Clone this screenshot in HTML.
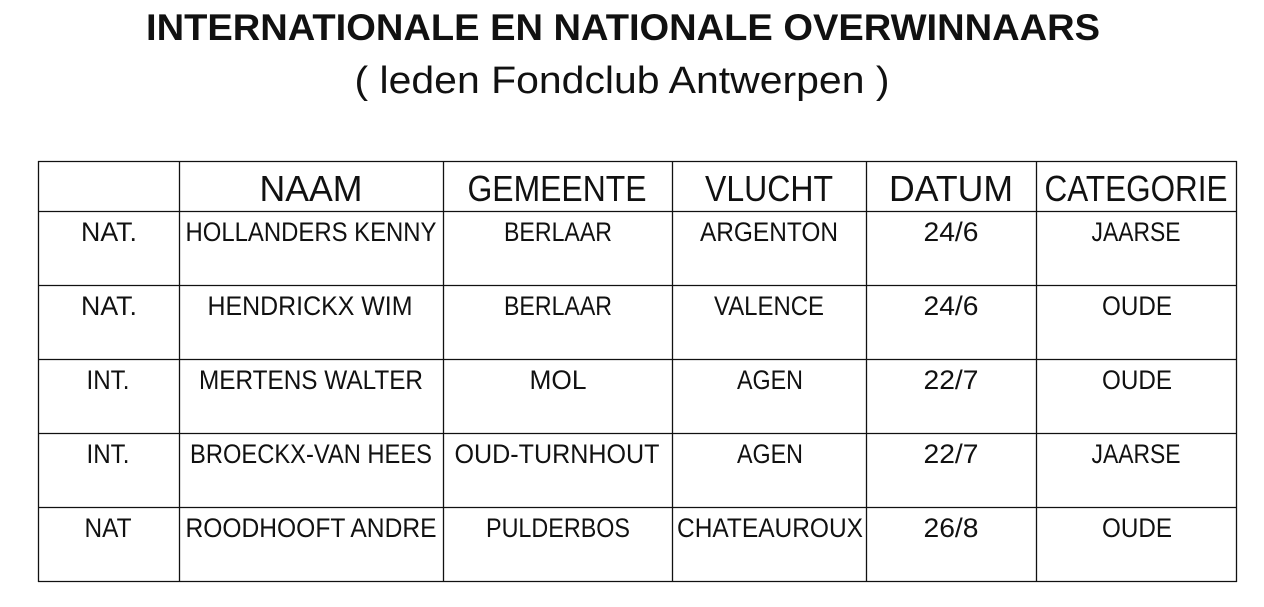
<!DOCTYPE html>
<html><head><meta charset="utf-8"><style>html,body{margin:0;padding:0;background:#fff}svg{display:block}</style></head>
<body>
<svg width="1264" height="607" xmlns="http://www.w3.org/2000/svg" font-family="Liberation Sans, sans-serif" fill="#111">
<text x="623" y="40" font-size="37" font-weight="bold" text-anchor="middle" textLength="954" lengthAdjust="spacingAndGlyphs">INTERNATIONALE  EN NATIONALE OVERWINNAARS</text>
<text x="622" y="93" font-size="38" text-anchor="middle" textLength="535" lengthAdjust="spacingAndGlyphs">( leden Fondclub Antwerpen )</text>
<g stroke="#111" stroke-width="1.3">
<line x1="38" y1="161.5" x2="1237" y2="161.5"/>
<line x1="38" y1="211.5" x2="1237" y2="211.5"/>
<line x1="38" y1="285.5" x2="1237" y2="285.5"/>
<line x1="38" y1="359.5" x2="1237" y2="359.5"/>
<line x1="38" y1="433.5" x2="1237" y2="433.5"/>
<line x1="38" y1="507.5" x2="1237" y2="507.5"/>
<line x1="38" y1="581.5" x2="1237" y2="581.5"/>
<line x1="38.5" y1="161" x2="38.5" y2="582"/>
<line x1="179.5" y1="161" x2="179.5" y2="582"/>
<line x1="443.5" y1="161" x2="443.5" y2="582"/>
<line x1="672.5" y1="161" x2="672.5" y2="582"/>
<line x1="866.5" y1="161" x2="866.5" y2="582"/>
<line x1="1036.5" y1="161" x2="1036.5" y2="582"/>
<line x1="1236.5" y1="161" x2="1236.5" y2="582"/>
</g>
<g font-size="36" text-anchor="middle">
<text x="311" y="201" textLength="103" lengthAdjust="spacingAndGlyphs">NAAM</text>
<text x="557" y="201" textLength="179" lengthAdjust="spacingAndGlyphs">GEMEENTE</text>
<text x="769" y="201" textLength="128" lengthAdjust="spacingAndGlyphs">VLUCHT</text>
<text x="951" y="201" textLength="124" lengthAdjust="spacingAndGlyphs">DATUM</text>
<text x="1136" y="201" textLength="183" lengthAdjust="spacingAndGlyphs">CATEGORIE</text>
</g>
<g font-size="26.5" text-anchor="middle">
<text x="109" y="241" textLength="56" lengthAdjust="spacingAndGlyphs">NAT.</text>
<text x="311" y="241" textLength="251" lengthAdjust="spacingAndGlyphs">HOLLANDERS KENNY</text>
<text x="558" y="241" textLength="108" lengthAdjust="spacingAndGlyphs">BERLAAR</text>
<text x="769" y="241" textLength="138" lengthAdjust="spacingAndGlyphs">ARGENTON</text>
<text x="951" y="241" textLength="55" lengthAdjust="spacingAndGlyphs">24/6</text>
<text x="1136" y="241" textLength="89" lengthAdjust="spacingAndGlyphs">JAARSE</text>

<text x="109" y="315" textLength="56" lengthAdjust="spacingAndGlyphs">NAT.</text>
<text x="310" y="315" textLength="205" lengthAdjust="spacingAndGlyphs">HENDRICKX WIM</text>
<text x="558" y="315" textLength="108" lengthAdjust="spacingAndGlyphs">BERLAAR</text>
<text x="769" y="315" textLength="110" lengthAdjust="spacingAndGlyphs">VALENCE</text>
<text x="951" y="315" textLength="55" lengthAdjust="spacingAndGlyphs">24/6</text>
<text x="1137" y="315" textLength="70" lengthAdjust="spacingAndGlyphs">OUDE</text>

<text x="108" y="389" textLength="43" lengthAdjust="spacingAndGlyphs">INT.</text>
<text x="311" y="389" textLength="224" lengthAdjust="spacingAndGlyphs">MERTENS WALTER</text>
<text x="558" y="389" textLength="57" lengthAdjust="spacingAndGlyphs">MOL</text>
<text x="770" y="389" textLength="66" lengthAdjust="spacingAndGlyphs">AGEN</text>
<text x="951" y="389" textLength="55" lengthAdjust="spacingAndGlyphs">22/7</text>
<text x="1137" y="389" textLength="70" lengthAdjust="spacingAndGlyphs">OUDE</text>

<text x="108" y="463" textLength="43" lengthAdjust="spacingAndGlyphs">INT.</text>
<text x="311" y="463" textLength="242" lengthAdjust="spacingAndGlyphs">BROECKX-VAN HEES</text>
<text x="557" y="463" textLength="205" lengthAdjust="spacingAndGlyphs">OUD-TURNHOUT</text>
<text x="770" y="463" textLength="66" lengthAdjust="spacingAndGlyphs">AGEN</text>
<text x="951" y="463" textLength="55" lengthAdjust="spacingAndGlyphs">22/7</text>
<text x="1136" y="463" textLength="89" lengthAdjust="spacingAndGlyphs">JAARSE</text>

<text x="108" y="537" textLength="47" lengthAdjust="spacingAndGlyphs">NAT</text>
<text x="311" y="537" textLength="251" lengthAdjust="spacingAndGlyphs">ROODHOOFT ANDRE</text>
<text x="558" y="537" textLength="144" lengthAdjust="spacingAndGlyphs">PULDERBOS</text>
<text x="770" y="537" textLength="186" lengthAdjust="spacingAndGlyphs">CHATEAUROUX</text>
<text x="951" y="537" textLength="55" lengthAdjust="spacingAndGlyphs">26/8</text>
<text x="1137" y="537" textLength="70" lengthAdjust="spacingAndGlyphs">OUDE</text>
</g>
</svg>
</body></html>
